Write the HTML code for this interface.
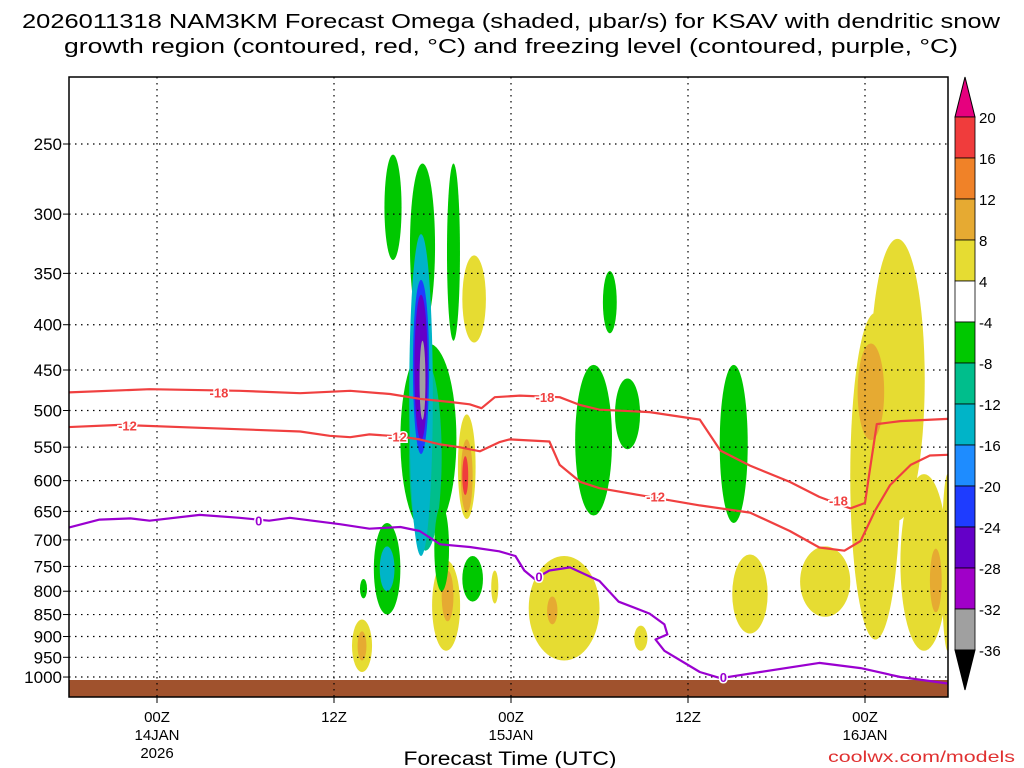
<!DOCTYPE html>
<html><head><meta charset="utf-8"><style>
body{margin:0;background:#fff;width:1024px;height:768px;overflow:hidden}
svg{display:block;font-family:"Liberation Sans",sans-serif}
</style></head><body>
<svg id="c" width="1024" height="768" viewBox="0 0 1024 768"></svg>
<script>
// ---- data ----
const xTickHours=[0,12,24,36,48];
const xTickLabels=[["00Z","14JAN","2026"],["12Z"],["00Z","15JAN"],["12Z"],["00Z","16JAN"]];
const pLevels=[250,300,350,400,450,500,550,600,650,700,750,800,850,900,950,1000];
const cbLabels=["20","16","12","8","4","-4","-8","-12","-16","-20","-24","-28","-32","-36"];
const cbColors=["#f03c3c","#f08228","#e6aa32","#e6dc32","#ffffff","#00c800","#00be8c","#00b4c8","#1e8cff","#1e3cff","#6400c8","#a000c8","#a0a0a0"];
// blobs: hour center, half width (h), pTop, pBottom, color index
const blobHour=[16.0,18.0,18.4,20.1,21.5,30.7,29.6,31.9,39.1,48.7,50.2,52.0,45.3,53.6,15.6,21.0,19.6,21.4,27.6,13.9,40.2,32.8,14.0,22.9,18.2,17.9,17.9,17.9,18.0,15.6,48.4,52.8,21.0,19.7,26.8,13.9,20.9,19.3];
const blobHalfW=[0.58,0.85,1.9,0.44,0.8,0.47,1.25,0.85,0.95,1.7,1.85,1.6,1.7,0.4,0.9,0.6,0.95,0.7,2.4,0.68,1.2,0.45,0.24,0.24,1.1,0.8,0.55,0.45,0.2,0.5,0.9,0.4,0.4,0.4,0.35,0.3,0.2,0.5];
const blobPTop=[257,263,420,263,334,348,444,460,444,388,320,590,712,590,670,505,738,730,730,861,727,875,775,758,440,316,356,370,417,712,420,716,539,758,811,888,563,640];
const blobPBot=[338,404,690,417,419,409,657,553,670,907,666,934,855,934,850,663,934,822,958,987,893,934,815,826,720,730,560,540,512,800,540,845,652,865,872,958,623,800];
const blobColor=[5,5,5,5,3,5,5,5,5,3,3,3,3,3,5,3,3,5,3,3,3,3,5,3,6,7,9,10,12,7,2,2,2,2,2,2,0,5];
// contour lines [hour, pressure]
const m18Hours=[-6,-0.5,5.6,9.7,13.1,15.8,17.8,19.9,21.2,22,22.9,24.6,27.3,28.7,30,33.4,36.8,38.2,40.2,42.9,44.9,47,48,48.3,48.8,50.4,53.6];
const m18Press=[477,473,475,478,475,479,485,489,492,497,483,481,483,493,499,502,512,555,577,602,626,645,636,588,518,514,511];
const m12Hours=[-6,-2.5,2.9,9.7,11.7,13.1,14.4,16.5,17.8,19.2,20.5,21.9,23.2,23.9,26.6,27.3,28.7,30,32.7,36.8,40.2,42.9,44.9,46.6,47.7,48.7,49.7,51.1,52.4,53.6];
const m12Press=[522,519,523,528,534,536,532,535,539,546,550,556,543,539,542,576,602,612,623,640,652,684,714,720,702,648,607,576,562,561];
const frzHours=[-6,-3.9,-1.8,-0.5,2.9,5.6,7.6,9,12.4,14.4,16.5,17.8,19.2,21.2,23.2,24.3,24.9,25.6,26.6,28,30,31.3,33.4,34.4,34.6,33.8,34.4,36.8,38.2,40.9,44.9,47.7,50.4,53.6];
const frzPress=[678,664,662,666,656,661,666,661,672,680,677,684,708,713,721,730,758,775,758,752,779,822,848,872,895,907,934,987,1003,987,964,977,1000,1017];
const labels18=[[4.2,477,"-18"],[26.3,483,"-18"],[46.2,632,"-18"]];
const labels12=[[-2,520,"-12"],[16.3,535,"-12"],[33.8,625,"-12"]];
const labels0=[[6.9,666,"0"],[25.9,770,"0"],[38.4,1000,"0"]];

// ---- axes ----
const L=69,R=948,T=77,B=697;
const x=h=>157+h*14.75;
const y=p=>144+384.5*Math.log(p/250);
const NS="http://www.w3.org/2000/svg";
const svg=document.getElementById('c');
function mk(tag,at,parent){const e=document.createElementNS(NS,tag);for(const k in at)e.setAttribute(k,at[k]);(parent||svg).appendChild(e);return e;}

const defs=mk('defs',{});
const cp=mk('clipPath',{id:'pc'},defs);mk('rect',{x:L,y:T,width:R-L,height:B-T},cp);
const plot=mk('g',{'clip-path':'url(#pc)'});



// blobs
for(let i=0;i<blobHour.length;i++){
  const y1=y(blobPTop[i]),y2=y(blobPBot[i]);
  const e=mk('ellipse',{cx:x(blobHour[i]),cy:(y1+y2)/2,rx:blobHalfW[i]*14.75,ry:(y2-y1)/2,fill:cbColors[blobColor[i]]},plot);
  
  
}
// ground
const gnd=mk('rect',{x:L,y:680,width:R-L,height:B-680,fill:'#a0522d'},plot);



// grid
for(const p of pLevels){mk('line',{x1:L,x2:R,y1:y(p),y2:y(p),stroke:'#000','stroke-width':1.2,'stroke-dasharray':'1.5 4.5'},plot);}
for(const h of xTickHours){mk('line',{x1:x(h),x2:x(h),y1:T,y2:B,stroke:'#000','stroke-width':1.2,'stroke-dasharray':'1.5 4.5'},plot);}

function line(hs,ps,col,name){
  const d=hs.map((h,i)=>(i?'L':'M')+x(h).toFixed(1)+' '+y(ps[i]).toFixed(1)).join(' ');
  const e=mk('path',{d:d,fill:'none',stroke:col,'stroke-width':2.2,'stroke-linejoin':'round'},plot);
  
  
}
line(m18Hours,m18Press,'#f04040','contour-minus18');
line(m12Hours,m12Press,'#f04040','contour-minus12');
line(frzHours,frzPress,'#9a00d0','freezing-level');
function labs(arr,col){for(const a of arr){
  const t=mk('text',{x:x(a[0]),y:y(a[1])+5,'text-anchor':'middle','font-size':13,'font-weight':'bold',fill:col,stroke:'#fff','stroke-width':3,'paint-order':'stroke'},plot);t.textContent=a[2];
  
  }}
labs(labels18,'#f04040');labs(labels12,'#f04040');labs(labels0,'#9a00d0');

// frame
mk('rect',{x:L,y:T,width:R-L,height:B-T,fill:'none',stroke:'#000','stroke-width':1.5});
// y labels
for(const p of pLevels){
  mk('line',{x1:L-6,x2:L,y1:y(p),y2:y(p),stroke:'#000'});
  const t=mk('text',{x:62,y:y(p)+6,'text-anchor':'end','font-size':17});t.textContent=p;
  
  
}
// x labels
xTickHours.forEach((h,i)=>{
  mk('line',{x1:x(h),x2:x(h),y1:B,y2:B+6,stroke:'#000'});
  xTickLabels[i].forEach((s,j)=>{
    const t=mk('text',{x:x(h),y:722+j*18,'text-anchor':'middle','font-size':15});t.textContent=s;
    
    
  });
});
// titles
const t1=mk('text',{x:511,y:28,'text-anchor':'middle','font-size':20,textLength:978,lengthAdjust:'spacingAndGlyphs'});
t1.textContent="2026011318 NAM3KM Forecast Omega (shaded, \u03BCbar/s) for KSAV with dendritic snow";


const t2=mk('text',{x:511,y:53,'text-anchor':'middle','font-size':20,textLength:894,lengthAdjust:'spacingAndGlyphs'});
t2.textContent="growth region (contoured, red, \u00B0C) and freezing level (contoured, purple, \u00B0C)";


const xt=mk('text',{x:510,y:765,'text-anchor':'middle','font-size':19,textLength:213,lengthAdjust:'spacingAndGlyphs'});
xt.textContent="Forecast Time (UTC)";


const cr=mk('text',{x:1015,y:762,'text-anchor':'end','font-size':16,fill:'#e03030',textLength:187,lengthAdjust:'spacingAndGlyphs'});
cr.textContent="coolwx.com/models";



// colorbar
const cb=mk('g',{});


const cbX=955,cbW=20,cbTop=117,cbStep=41;
mk('polygon',{points:`${cbX},${cbTop} ${cbX+cbW},${cbTop} ${cbX+cbW/2},77`,fill:'#e6007e',stroke:'#000'},cb);
cbColors.forEach((c,i)=>{mk('rect',{x:cbX,y:cbTop+i*cbStep,width:cbW,height:cbStep,fill:c,stroke:'#000','stroke-width':0.8},cb);});
const cbBot=cbTop+cbColors.length*cbStep;
mk('polygon',{points:`${cbX},${cbBot} ${cbX+cbW},${cbBot} ${cbX+cbW/2},690`,fill:'#000',stroke:'#000'},cb);
cbLabels.forEach((s,i)=>{
  const t=mk('text',{x:979,y:cbTop+i*cbStep+6,'font-size':15},cb);t.textContent=s;
  
  
});
</script>
</body></html>
